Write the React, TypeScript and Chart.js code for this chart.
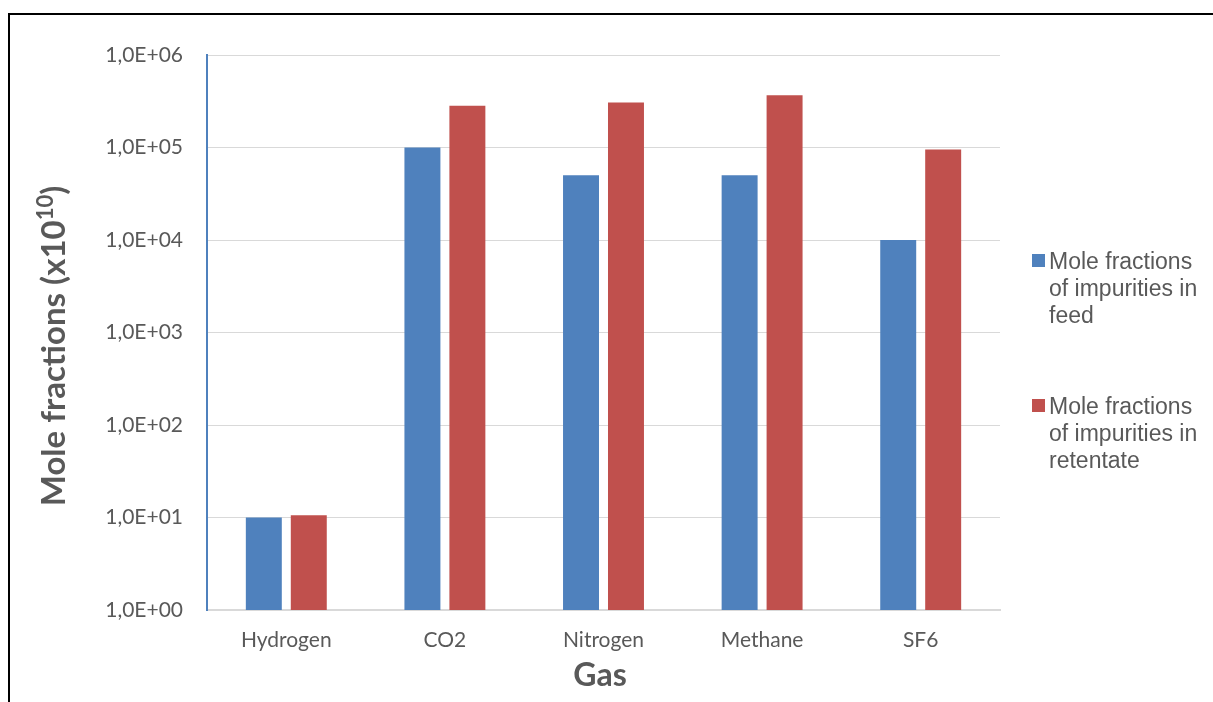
import { useEffect, useRef } from "react";
import { Chart, registerables } from "chart.js";

Chart.register(...registerables);

// Gas species on the x axis
const gases = ["Hydrogen", "CO2", "Nitrogen", "Methane", "SF6"];
// Mole fractions (x10^10) of each impurity
const feedValues = [10, 100000, 50000, 50000, 10000];
const retentateValues = [10.6, 282000, 306000, 368000, 95000];
// Legend text, wrapped onto lines
const feedLegend = ["Mole fractions", "of impurities in", "feed"];
const retentateLegend = ["Mole fractions", "of impurities in", "retentate"];
// Decade ticks of the log axis
const yTickValues = [1, 10, 100, 1000, 10000, 100000, 1000000];

const xTitle = "Gas";
const yTitleMain = "Mole fractions (x10";
const yTitleSup = "10";
const yTitleEnd = ")";

const FEED_COLOR = "#4F81BD";
const RETENTATE_COLOR = "#C0504D";
const TEXT_COLOR = "#595959";
const GRID_COLOR = "#D9D9D9";
const TICK_FONT = "Lato";
const LEGEND_FONT = "'Liberation Sans', Arial, sans-serif";

const formatTick = (v: number) => {
  const exp = Math.round(Math.log10(v));
  return `1,0E+${String(exp).padStart(2, "0")}`;
};

const decorations = {
  id: "decorations",
  beforeDraw(chart: any) {
    const ctx = chart.ctx;
    ctx.save();
    ctx.fillStyle = "#ffffff";
    ctx.fillRect(0, 0, chart.width, chart.height);
    // outer frame
    ctx.strokeStyle = "#000000";
    ctx.lineWidth = 2;
    ctx.beginPath();
    ctx.moveTo(9, chart.height + 5);
    ctx.lineTo(9, 14);
    ctx.lineTo(chart.width + 5, 14);
    ctx.stroke();
    ctx.restore();
  },
  afterDraw(chart: any) {
    const ctx = chart.ctx;
    const area = chart.chartArea;
    ctx.save();

    // x axis title
    ctx.fillStyle = TEXT_COLOR;
    ctx.font = `bold 32px ${TICK_FONT}`;
    ctx.textAlign = "center";
    ctx.textBaseline = "alphabetic";
    ctx.fillText(xTitle, 600, 686);

    // y axis title with superscript, rotated
    ctx.save();
    ctx.translate(65, 346);
    ctx.rotate(-Math.PI / 2);
    const mainFont = `bold 33px ${TICK_FONT}`;
    const supFont = `bold 22px ${TICK_FONT}`;
    ctx.font = mainFont;
    const wMain = ctx.measureText(yTitleMain).width;
    const wEnd = ctx.measureText(yTitleEnd).width;
    ctx.font = supFont;
    const wSup = ctx.measureText(yTitleSup).width;
    const total = wMain + wSup + wEnd;
    let x = -total / 2;
    ctx.textAlign = "left";
    ctx.font = mainFont;
    ctx.fillText(yTitleMain, x, 0);
    x += wMain;
    ctx.font = supFont;
    ctx.fillText(yTitleSup, x, -12);
    x += wSup;
    ctx.font = mainFont;
    ctx.fillText(yTitleEnd, x, 0);
    ctx.restore();

    // legend
    const items = [
      { color: FEED_COLOR, lines: feedLegend, top: 254 },
      { color: RETENTATE_COLOR, lines: retentateLegend, top: 399 },
    ];
    ctx.font = `23px ${LEGEND_FONT}`;
    ctx.textAlign = "left";
    ctx.textBaseline = "alphabetic";
    items.forEach((it) => {
      ctx.fillStyle = it.color;
      ctx.fillRect(area.right + 32, it.top, 13, 13);
      ctx.fillStyle = TEXT_COLOR;
      it.lines.forEach((line, i) => {
        ctx.fillText(line, area.right + 49, it.top + 15 + i * 27);
      });
    });
    ctx.restore();
  },
};

export default function App() {
  const canvasRef = useRef<HTMLCanvasElement | null>(null);

  useEffect(() => {
    const canvas = canvasRef.current;
    if (!canvas) return;
    const chart = new Chart(canvas, {
      type: "bar",
      data: {
        labels: gases,
        datasets: [
          {
            label: feedLegend.join(" "),
            data: feedValues,
            backgroundColor: FEED_COLOR,
            categoryPercentage: 0.567,
            barPercentage: 0.8,
          },
          {
            label: retentateLegend.join(" "),
            data: retentateValues,
            backgroundColor: RETENTATE_COLOR,
            categoryPercentage: 0.567,
            barPercentage: 0.8,
          },
        ],
      },
      options: {
        animation: false,
        responsive: false,
        devicePixelRatio: 1,
        layout: { padding: { left: 0, top: 55, right: 213, bottom: 0 } },
        plugins: {
          legend: { display: false },
          tooltip: { enabled: false },
          title: { display: false },
        },
        scales: {
          x: {
            grid: { display: false, drawTicks: false },
            border: { display: true, color: GRID_COLOR, width: 2 },
            ticks: {
              color: TEXT_COLOR,
              font: { family: TICK_FONT, size: 21 },
              padding: 18,
            },
            afterFit(scale: any) {
              scale.height = 92;
            },
          },
          y: {
            type: "logarithmic",
            min: 1,
            max: 1000000,
            grid: { color: GRID_COLOR, lineWidth: 1, drawTicks: false },
            border: { display: true, color: FEED_COLOR, width: 2 },
            ticks: {
              color: TEXT_COLOR,
              font: { family: TICK_FONT, size: 21 },
              padding: 24,
              autoSkip: false,
              callback: (v: any) => formatTick(Number(v)),
            },
            afterBuildTicks(scale: any) {
              scale.ticks = yTickValues.map((v) => ({ value: v }));
            },
            afterFit(scale: any) {
              scale.width = 207;
            },
          },
        },
      },
      plugins: [decorations],
    });
    return () => chart.destroy();
  }, []);

  return (
    <div style={{ position: "fixed", left: 0, top: 0, width: 1213, height: 702, background: "#fff" }}>
      <canvas ref={canvasRef} width={1213} height={702} style={{ display: "block" }} />
    </div>
  );
}
